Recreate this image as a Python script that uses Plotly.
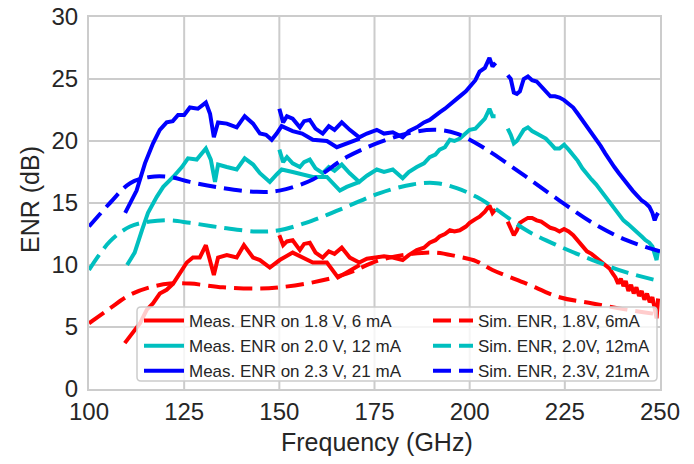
import plotly.graph_objects as go

# ---------------- data ----------------
# measured band 1 (approx. 110-172 GHz)
f1_blue = [109.5, 112.5, 114.7, 116.8, 118.6, 120.4, 122.0, 123.4, 125.0, 126.5, 128.6, 130.0, 130.7, 131.8, 132.8, 133.9, 136.2, 138.8, 140.9, 143.1, 144.9, 146.5, 148.0, 149.3, 150.6, 153.5, 156.0, 158.8, 162.5, 165.1, 167.7, 171.1]
e1_blue = [14.2, 16.0, 18.2, 19.8, 20.9, 21.5, 21.6, 22.1, 22.1, 22.7, 22.6, 22.9, 23.1, 22.2, 20.3, 21.5, 21.4, 21.1, 22.0, 21.4, 20.6, 20.5, 20.1, 20.6, 21.2, 20.8, 20.6, 20.1, 20.0, 19.5, 19.8, 20.2]
f1_cyan = [110.0, 112.0, 113.9, 115.5, 117.8, 119.5, 122.1, 124.4, 126.0, 128.3, 130.7, 132.0, 133.1, 133.9, 136.2, 138.8, 140.9, 143.1, 144.9, 147.5, 149.3, 150.6, 153.5, 156.0, 158.8, 162.5, 165.9, 167.7, 171.1]
e1_cyan = [10.0, 11.0, 12.8, 14.2, 15.5, 16.3, 17.1, 17.9, 18.6, 18.5, 19.4, 18.5, 16.7, 18.1, 17.9, 17.7, 18.6, 18.1, 17.4, 16.7, 17.3, 17.7, 17.5, 17.3, 17.1, 17.1, 16.0, 16.3, 16.7]
f1_red = [109.4, 111.5, 113.4, 115.2, 116.8, 118.6, 120.4, 122.1, 123.9, 125.7, 127.3, 129.1, 130.7, 131.8, 132.8, 133.9, 136.2, 138.8, 140.7, 143.1, 144.9, 147.5, 150.1, 153.5, 156.0, 158.8, 162.5, 165.4, 167.7, 171.1]
e1_red = [3.7, 4.5, 5.3, 6.4, 6.9, 7.7, 8.0, 8.5, 9.4, 10.2, 10.6, 10.6, 11.6, 10.4, 9.2, 10.6, 10.8, 10.6, 11.6, 10.6, 10.4, 9.8, 10.4, 11.0, 10.6, 10.2, 10.2, 9.0, 9.4, 10.0]

# measured band 2 (approx. 150-207 GHz)
f2 = [150.0, 151.0, 152.0, 153.5, 155.4, 156.5, 158.0, 159.5, 161.4, 163.0, 164.5, 166.4, 168.5, 171.0, 173.0, 175.6, 177.5, 179.8, 182.4, 184.0, 186.1, 188.0, 189.5, 191.0, 192.1, 193.5, 194.8, 196.0, 197.4, 199.0, 200.0, 201.5, 202.6, 204.0, 205.2, 206.0, 206.8]
e2_blue = [22.6, 21.5, 22.0, 21.8, 21.1, 21.6, 21.7, 21.0, 20.6, 21.2, 20.9, 21.5, 20.9, 20.3, 20.6, 20.9, 20.6, 20.7, 20.3, 20.8, 21.1, 21.5, 21.7, 22.1, 22.3, 22.6, 22.9, 23.2, 23.6, 24.0, 24.4, 24.9, 25.6, 25.9, 26.7, 26.0, 26.3]
e2_cyan = [19.3, 18.3, 18.7, 18.2, 17.9, 18.3, 18.5, 17.8, 17.4, 17.9, 17.6, 18.1, 17.4, 16.7, 17.2, 17.7, 17.5, 17.7, 17.0, 17.5, 17.9, 18.2, 18.7, 18.9, 19.3, 19.5, 20.1, 20.0, 20.2, 20.6, 20.9, 21.0, 21.4, 21.8, 22.6, 22.0, 22.0]
e2_red = [12.4, 11.6, 11.9, 12.0, 11.2, 11.7, 11.8, 11.0, 10.6, 11.1, 10.9, 11.4, 10.6, 10.2, 10.5, 10.6, 10.7, 10.6, 10.4, 10.8, 11.2, 11.4, 11.8, 12.0, 12.3, 12.5, 12.8, 12.7, 12.8, 13.1, 13.4, 13.7, 13.9, 14.3, 14.8, 14.2, 14.5]

# measured band 3 (approx. 210-250 GHz)
f3 = [210.0, 210.8, 211.6, 212.4, 213.2, 214.2, 215.3, 216.4, 217.6, 218.8, 220.0, 221.2, 222.4, 223.6, 224.8, 226.0, 227.2, 228.4, 229.6, 230.8, 232.0, 233.2, 234.4, 235.6, 236.8, 238.0, 239.2, 240.4, 241.6, 242.8, 244.0, 245.2, 246.2, 247.2, 248.0, 248.6, 249.1, 249.5]
e3_blue = [25.3, 25.0, 23.9, 23.8, 24.0, 25.0, 25.2, 24.9, 24.8, 24.4, 24.1, 23.6, 23.6, 23.5, 23.3, 23.0, 22.7, 22.2, 21.7, 21.2, 20.7, 20.1, 19.6, 19.0, 18.4, 17.9, 17.4, 16.9, 16.4, 16.0, 15.6, 15.2, 15.0, 14.7, 14.2, 13.6, 14.0, 14.2]
e3_cyan = [21.0, 20.5, 19.8, 20.0, 20.4, 20.9, 21.1, 20.8, 20.6, 20.4, 20.2, 19.8, 19.4, 19.4, 19.7, 19.3, 18.9, 18.4, 17.8, 17.3, 16.9, 16.5, 16.0, 15.6, 15.0, 14.5, 14.0, 13.6, 13.3, 13.0, 12.7, 12.3, 12.0, 11.8, 11.5, 11.0, 10.4, 11.2]
f3_red = [210.0, 210.8, 211.6, 212.4, 213.2, 214.2, 215.3, 216.4, 217.6, 218.8, 220.0, 221.2, 222.4, 223.6, 224.8, 226.0, 227.2, 228.4, 229.6, 230.8, 232.0, 233.2, 234.4, 235.6, 236.8, 237.6, 238.3, 239.0, 239.7, 240.4, 241.0, 241.7, 242.4, 243.1, 243.8, 244.5, 245.2, 245.9, 246.6, 247.3, 248.0, 248.6, 249.1, 249.5]
e3_red = [13.5, 13.0, 12.4, 12.8, 13.4, 13.6, 13.8, 13.8, 13.6, 13.5, 13.2, 13.0, 12.9, 12.7, 12.9, 12.7, 12.4, 12.0, 11.6, 11.1, 10.9, 10.6, 10.3, 10.0, 9.7, 9.3, 9.0, 8.5, 8.9, 8.3, 8.7, 7.9, 8.4, 7.7, 8.2, 7.5, 7.9, 7.2, 7.7, 7.0, 7.4, 6.5, 5.7, 7.3]

# simulated ENR
f_sim = [100.0, 105.5, 110.8, 116.0, 121.3, 126.5, 135.2, 144.1, 150.0, 158.8, 167.7, 176.4, 185.0, 191.3, 196.6, 201.8, 206.0, 214.9, 223.6, 232.3, 241.2, 250.0]
sim_blue = [13.1, 15.0, 16.6, 17.1, 17.1, 16.7, 16.2, 15.9, 16.0, 16.9, 18.7, 19.9, 20.7, 20.9, 20.6, 19.8, 19.0, 17.1, 15.2, 13.4, 12.0, 11.1]
sim_cyan = [9.6, 11.9, 13.1, 13.5, 13.6, 13.4, 13.0, 12.7, 12.8, 13.6, 14.7, 15.8, 16.5, 16.6, 16.2, 15.5, 14.7, 12.8, 11.5, 10.4, 9.4, 8.7]
sim_red = [5.3, 6.5, 7.6, 8.2, 8.5, 8.5, 8.2, 8.1, 8.2, 8.6, 9.3, 10.4, 10.9, 11.0, 10.7, 10.3, 9.6, 8.5, 7.4, 6.9, 6.4, 6.0]

meas_names = ["Meas. ENR on 1.8 V, 6 mA", "Meas. ENR on 2.0 V, 12 mA", "Meas. ENR on 2.3 V, 21 mA"]
sim_names = ["Sim. ENR, 1.8V, 6mA", "Sim. ENR, 2.0V, 12mA", "Sim. ENR, 2.3V, 21mA"]
colors = ["#ff0000", "#00bfbf", "#0000ff"]

x_ticks = [100, 125, 150, 175, 200, 225, 250]
y_ticks = [0, 5, 10, 15, 20, 25, 30]

# ---------------- figure ----------------
# page body has an 8px margin, so the figure is 8px smaller and offset
OFF = 8
W, H = 694 - OFF, 464 - OFF
L, R, T, B = 89 - OFF, 34, 17 - OFF, 75
pw, ph = W - L - R, H - T - B


def px_x(p):  # screenshot pixel -> paper x
    return (p - OFF - L) / pw


def px_y(p):  # screenshot pixel -> paper y
    return (H - B - (p - OFF)) / ph


FONT = "Liberation Sans, Arial, sans-serif"
GRID = "#cccccc"
TXT = "#262626"
fig = go.Figure()

meas = [
    (f1_red, e1_red, f2, e2_red, f3_red, e3_red),
    (f1_cyan, e1_cyan, f2, e2_cyan, f3, e3_cyan),
    (f1_blue, e1_blue, f2, e2_blue, f3, e3_blue),
]
sims = [sim_red, sim_cyan, sim_blue]

for i in range(3):
    a, b, c, d, e, g = meas[i]
    xs = list(a) + [None] + list(c) + [None] + list(e)
    ys = list(b) + [None] + list(d) + [None] + list(g)
    fig.add_trace(go.Scatter(x=xs, y=ys, mode="lines", name=meas_names[i],
                             line=dict(color=colors[i], width=4),
                             connectgaps=False, legend="legend",
                             legendgroup="m%d" % i))
for i in range(3):
    fig.add_trace(go.Scatter(x=f_sim, y=sims[i], mode="lines", name=sim_names[i],
                             line=dict(color=colors[i], width=4, dash="18px,8px", shape="spline"),
                             legend="legend2", legendgroup="s%d" % i))

# gridlines at tick positions (below traces)
for v in x_ticks[1:-1]:
    fig.add_shape(type="line", xref="x", yref="paper", x0=v, x1=v, y0=0, y1=1,
                  line=dict(color=GRID, width=2), layer="below")
for v in y_ticks[1:-1]:
    fig.add_shape(type="line", xref="paper", yref="y", x0=0, x1=1, y0=v, y1=v,
                  line=dict(color=GRID, width=2), layer="below")

# legend frame (semi-transparent, rounded)
x0, x1 = px_x(137), px_x(657)
y0, y1 = px_y(381), px_y(307)
rx, ry = 4 / pw, 4 / ph
path = (f"M {x0+rx},{y1} L {x1-rx},{y1} Q {x1},{y1} {x1},{y1-ry} "
        f"L {x1},{y0+ry} Q {x1},{y0} {x1-rx},{y0} L {x0+rx},{y0} "
        f"Q {x0},{y0} {x0},{y0+ry} L {x0},{y1-ry} Q {x0},{y1} {x0+rx},{y1} Z")
fig.add_shape(type="path", path=path, xref="paper", yref="paper",
              fillcolor="rgba(255,255,255,0.8)", line=dict(color=GRID, width=1.5),
              layer="above")

leg_common = dict(bgcolor="rgba(0,0,0,0)", borderwidth=0,
                  font=dict(family=FONT, size=17, color=TXT),
                  tracegroupgap=0, itemwidth=40, yanchor="top", xanchor="left",
                  orientation="v")

axis_common = dict(showgrid=False, showline=True, linecolor=GRID, linewidth=2, mirror=True,
                   zeroline=False, ticks="", automargin=False, ticklabeloverflow="allow",
                   tickfont=dict(size=24, color=TXT, family=FONT))

fig.add_annotation(text="Frequency (GHz)", xref="paper", yref="paper",
                   x=px_x(377), y=px_y(442), xanchor="center", yanchor="middle",
                   showarrow=False, font=dict(size=25, color=TXT, family=FONT))
fig.add_annotation(text="ENR (dB)", xref="paper", yref="paper", textangle=-90,
                   x=px_x(30), y=px_y(200), xanchor="center", yanchor="middle",
                   showarrow=False, font=dict(size=25, color=TXT, family=FONT))

fig.update_layout(
    width=W, height=H,
    margin=dict(l=L, r=R, t=T, b=B, autoexpand=False),
    plot_bgcolor="white", paper_bgcolor="white",
    font=dict(family=FONT, color=TXT),
    showlegend=True,
    legend=dict(x=px_x(139), y=px_y(303), **leg_common),
    legend2=dict(x=px_x(428), y=px_y(303), **leg_common),
    xaxis=dict(range=[100, 250], tickvals=x_ticks, ticktext=[str(v) for v in x_ticks],
               ticklabelstandoff=0, **axis_common),
    yaxis=dict(range=[0, 30], tickvals=y_ticks, ticktext=[str(v) for v in y_ticks],
               ticklabelstandoff=4, **axis_common),
)

fig.write_html("out.html")
